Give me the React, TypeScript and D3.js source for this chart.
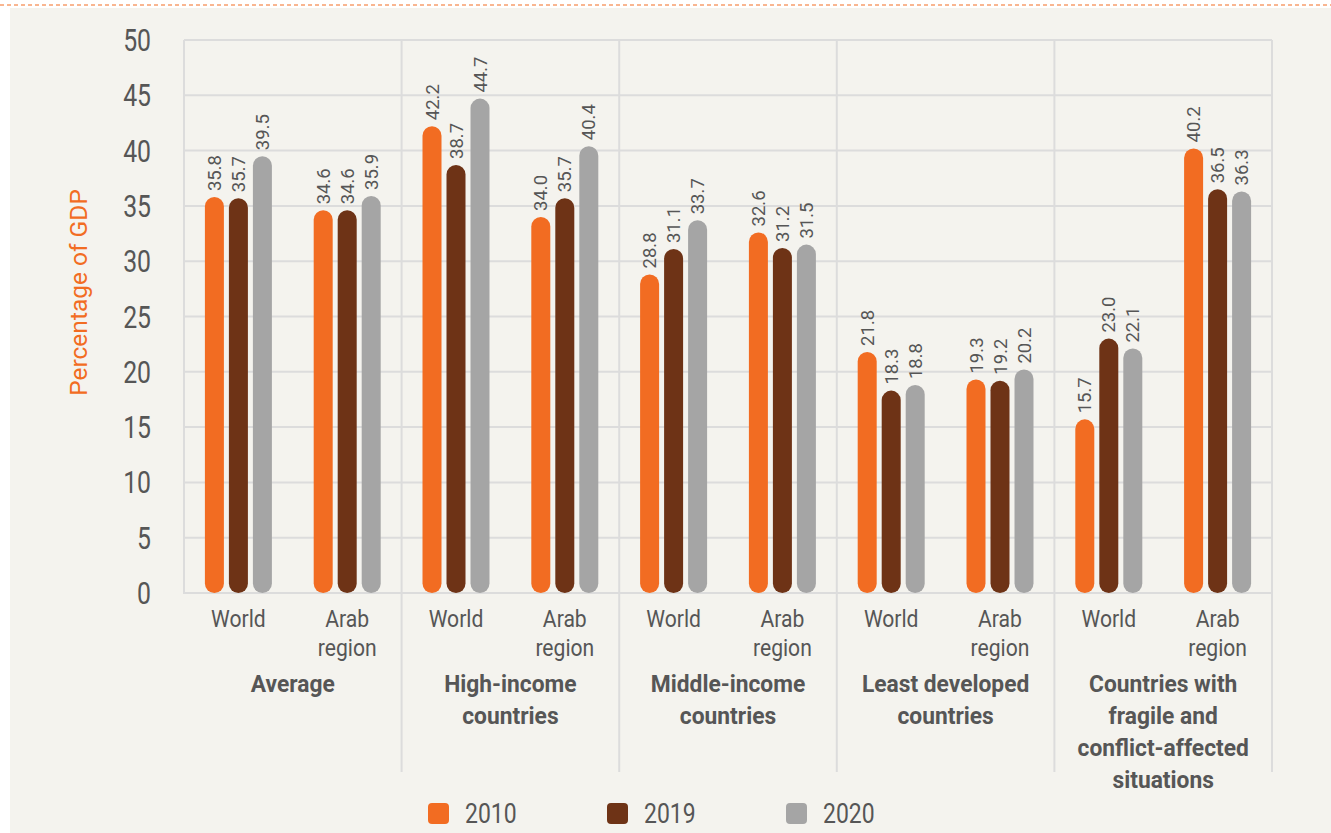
import * as d3 from "d3";

const groups = [
  ["Average"],
  ["High-income", "countries"],
  ["Middle-income", "countries"],
  ["Least developed", "countries"],
  ["Countries with", "fragile and", "conflict-affected", "situations"],
];
const regions = [["World"], ["Arab", "region"]];
const years = ["2010", "2019", "2020"];
const colors = ["#f26c22", "#6e3316", "#a5a5a5"];

// values per group: [World, Arab region], each [2010, 2019, 2020]
const average = [[35.8, 35.7, 39.5], [34.6, 34.6, 35.9]];
const highIncome = [[42.2, 38.7, 44.7], [34.0, 35.7, 40.4]];
const middleIncome = [[28.8, 31.1, 33.7], [32.6, 31.2, 31.5]];
const leastDeveloped = [[21.8, 18.3, 18.8], [19.3, 19.2, 20.2]];
const fragile = [[15.7, 23.0, 22.1], [40.2, 36.5, 36.3]];
const values = [average, highIncome, middleIncome, leastDeveloped, fragile];

const yTicks = [0, 5, 10, 15, 20, 25, 30, 35, 40, 45, 50];

const W = 1331;
const H = 833;
const left = 184;
const right = 1272;
const top = 40;
const bottom = 593;
const textColor = "#565656";
const gridColor = "#dcdcdc";
const font = "Roboto, 'DejaVu Sans', sans-serif";

const App = () => {
  const groupIdx = groups.map((_, i) => i);
  const x0 = d3.scaleBand<number>().domain(groupIdx).range([left, right]);
  const x1 = d3
    .scaleBand<number>()
    .domain([0, 1])
    .range([0, x0.bandwidth()]);
  const x2 = d3.scalePoint<string>().domain(years).range([-24, 24]);
  const y = d3.scaleLinear().domain([0, 50]).range([bottom, top]);
  const barW = 19;

  return (
    <svg
      width={W}
      height={H}
      style={{ position: "absolute", left: 0, top: 0, fontFamily: font }}
    >
      <rect x={0} y={0} width={W} height={H} fill="#ffffff" />
      <rect x={10} y={8} width={W - 10} height={H - 8} fill="#f4f3ee" />
      <line
        x1={0}
        x2={W}
        y1={5}
        y2={5}
        stroke="#f26c22"
        strokeWidth={1}
        strokeDasharray="4,3"
      />

      {/* grid */}
      {yTicks.map((t) => (
        <line
          key={"h" + t}
          x1={left}
          x2={right}
          y1={y(t)}
          y2={y(t)}
          stroke={gridColor}
          strokeWidth={2}
        />
      ))}
      {groupIdx.concat([groups.length]).map((i) => {
        const xx = i < groups.length ? x0(i)! : right;
        return (
          <line
            key={"v" + i}
            x1={xx}
            x2={xx}
            y1={top}
            y2={i === 0 ? bottom + 1 : 772}
            stroke={gridColor}
            strokeWidth={2}
          />
        );
      })}

      {/* y ticks */}
      {yTicks.map((t) => (
        <text
          key={"t" + t}
          transform={`translate(151,${y(t) + 11}) scale(0.8,1)`}
          textAnchor="end"
          fontSize={31}
          fill={textColor}
        >
          {t}
        </text>
      ))}
      <text
        transform={`translate(87,${(top + bottom) / 2 - 24}) rotate(-90)`}
        textAnchor="middle"
        fontSize={24.5}
        fill="#f26c22"
      >
        Percentage of GDP
      </text>

      {/* bars */}
      {values.map((g, gi) =>
        g.map((r, ri) =>
          r.map((v, yi) => {
            const cx = x0(gi)! + x1(ri)! + x1.bandwidth() / 2 + x2(years[yi])!;
            return (
              <g key={`${gi}-${ri}-${yi}`}>
                <rect
                  x={cx - barW / 2}
                  y={y(v)}
                  width={barW}
                  height={y(0) - y(v)}
                  rx={barW / 2}
                  fill={colors[yi]}
                />
                <text
                  transform={`translate(${cx},${y(v) - 6}) rotate(-90)`}
                  dy="0.36em"
                  fontSize={18.5}
                  fill={textColor}
                >
                  {v.toFixed(1)}
                </text>
              </g>
            );
          })
        )
      )}

      {/* region labels */}
      {groupIdx.map((gi) =>
        regions.map((lines, ri) => {
          const cx = x0(gi)! + x1(ri)! + x1.bandwidth() / 2;
          return lines.map((ln, li) => (
            <text
              key={`r${gi}-${ri}-${li}`}
              transform={`translate(${cx},${627 + li * 29}) scale(0.88,1)`}
              textAnchor="middle"
              fontSize={24}
              fill={textColor}
            >
              {ln}
            </text>
          ));
        })
      )}

      {/* group labels */}
      {groups.map((lines, gi) => {
        const cx = x0(gi)! + x0.bandwidth() / 2;
        return lines.map((ln, li) => (
          <text
            key={`g${gi}-${li}`}
            transform={`translate(${cx},${692 + li * 32}) scale(0.95,1)`}
            textAnchor="middle"
            fontSize={24}
            fontWeight="bold"
            fill={textColor}
          >
            {ln}
          </text>
        ));
      })}

      {/* legend */}
      {years.map((yr, i) => (
        <g key={"l" + yr} transform={`translate(${428 + i * 179},803)`}>
          <rect width={21} height={21} rx={4} fill={colors[i]} />
          <text
            transform="translate(37,20) scale(0.82,1)"
            fontSize={28}
            fill={textColor}
          >
            {yr}
          </text>
        </g>
      ))}
    </svg>
  );
};

export default App;
